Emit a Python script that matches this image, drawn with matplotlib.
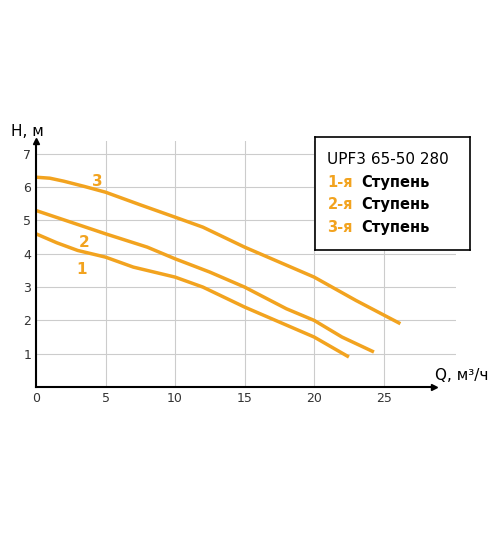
import matplotlib
matplotlib.use("Agg")
import matplotlib.pyplot as plt

x3 = [0, 1, 2, 3.5, 5, 7.5, 10, 12, 15, 17.5, 20, 23, 26.2]
y3 = [6.3, 6.27, 6.18, 6.02, 5.85, 5.47, 5.1, 4.8, 4.2, 3.75, 3.3, 2.6, 1.9]
x2 = [0, 2.5, 5, 8, 10, 12.5, 15, 18, 20, 22, 24.3]
y2 = [5.3, 4.95, 4.6, 4.2, 3.85, 3.45, 3.0, 2.35, 2.0, 1.5, 1.05]
x1 = [0, 1.5, 3, 5, 7, 10, 12, 15, 17.5, 20, 22.5]
y1 = [4.6, 4.33, 4.1, 3.9, 3.6, 3.3, 3.0, 2.4, 1.95, 1.5, 0.9]
xticks = [0, 5, 10, 15, 20, 25]
yticks = [1, 2, 3, 4, 5, 6, 7]
orange = "#f2a31f"

fig = plt.figure(figsize=(5, 5.38), dpi=100)
ax = fig.add_axes([0.072, 0.2807, 0.84, 0.458])
ax.set_xlim(0, 30.2)
ax.set_ylim(0, 7.4)
for s in ["top", "right"]:
    ax.spines[s].set_visible(False)
for s in ["left", "bottom"]:
    ax.spines[s].set_linewidth(1.5)
ax.set_xticks(xticks)
ax.set_yticks(yticks)
ax.tick_params(length=0, labelsize=9, colors="#333333")
ax.grid(True, color="#cccccc", lw=0.8)
ax.plot(0, 1, "^k", transform=ax.get_xaxis_transform(), clip_on=False, ms=5)
ax.plot(28.6, 0, ">k", clip_on=False, ms=5)
ax.spines["bottom"].set_bounds(0, 28.6)
for xs, ys in [(x1, y1), (x2, y2), (x3, y3)]:
    ax.plot(xs, ys, color=orange, lw=2.5, solid_capstyle="butt")
ax.text(4, 6.05, "3", color=orange, fontsize=11, fontweight="bold")
ax.text(3.1, 4.2, "2", color=orange, fontsize=11, fontweight="bold")
ax.text(2.9, 3.4, "1", color=orange, fontsize=11, fontweight="bold")
ax.text(-0.02, 1.02, "H, м", transform=ax.transAxes, fontsize=11, ha="center")
ax.text(28.7, 0.35, "Q, м³/ч", fontsize=11, va="center", clip_on=False)

# legend box
bx = fig.add_axes([0.63, 0.535, 0.31, 0.21])
bx.set_xticks([]); bx.set_yticks([])
for s in bx.spines.values():
    s.set_linewidth(1.2)
bx.text(0.08, 0.8, "UPF3 65-50 280", fontsize=11, va="center")
for i, lab in enumerate(["1-я", "2-я", "3-я"]):
    yy = 0.6 - i * 0.2
    bx.text(0.08, yy, lab, color=orange, fontsize=10.5, fontweight="bold", va="center")
    bx.text(0.3, yy, "Ступень", fontsize=10.5, fontweight="bold", va="center")
fig.savefig("out.png")
